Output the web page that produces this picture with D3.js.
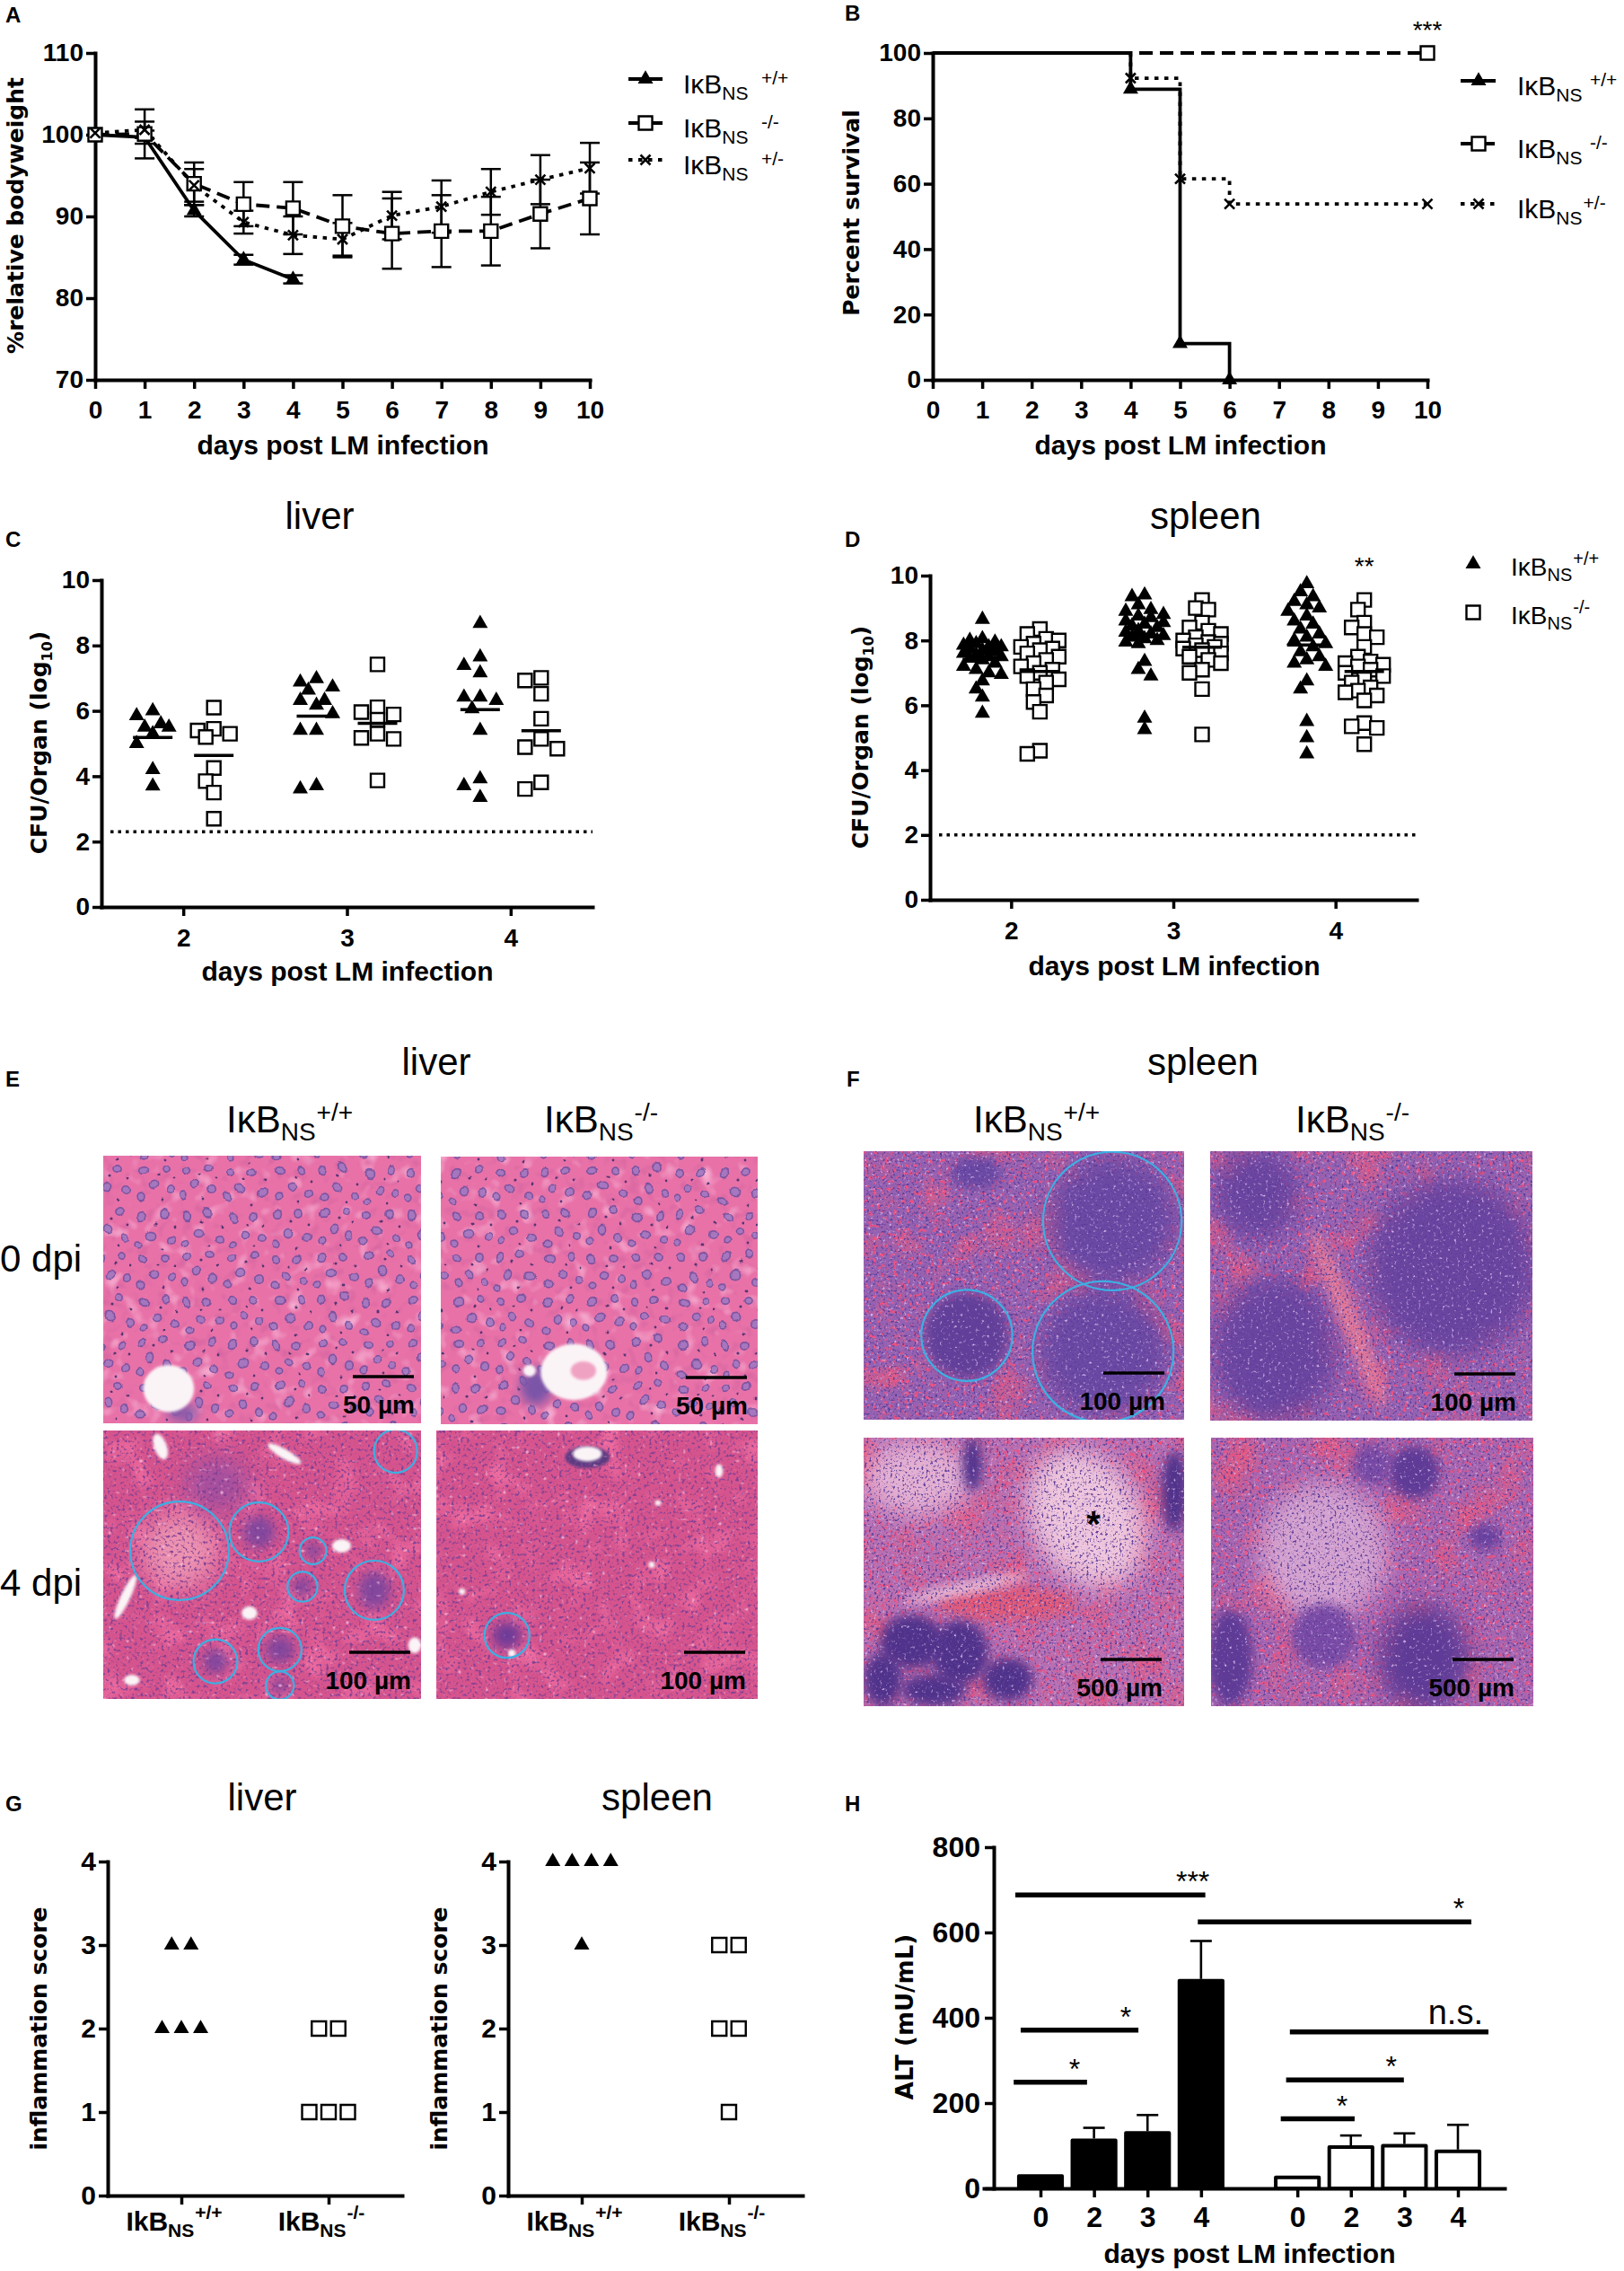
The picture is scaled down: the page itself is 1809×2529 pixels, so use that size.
<!DOCTYPE html>
<html>
<head>
<meta charset="utf-8">
<title>IκBNS LM infection figure</title>
<script src="https://cdn.jsdelivr.net/npm/d3@7/dist/d3.min.js"></script>
<style>
  html, body { margin: 0; padding: 0; background: #fff; }
  svg { display: block; }
</style>
</head>
<body>
<div id="figure"></div>
<script>
// ---------- A: relative bodyweight (%) ----------
const daysA = [0, 1, 2, 3, 4, 5, 6, 7, 8, 9, 10];
const weightWT = [100, 99.7, 90.7, 84.7, 82.3];
const weightWTerr = [0, 0.8, 0.7, 0.6, 0.5];
const weightKO = [100, 100.1, 94.0, 91.5, 91.0, 88.8, 87.9, 88.2, 88.2, 90.3, 92.2];
const weightKOerr = [0, 3.0, 2.6, 2.7, 3.2, 3.8, 4.3, 4.4, 4.2, 4.2, 4.4];
const weightHet = [100.2, 100.6, 93.8, 89.3, 87.7, 87.2, 90.1, 91.2, 93.0, 94.5, 95.9];
const weightHetErr = [0, 1.0, 2.0, 1.4, 2.3, 2.0, 2.9, 3.2, 2.8, 3.0, 3.1];

// ---------- B: survival (%) ----------
const survDaysWT = [0, 4, 5, 6];
const survWT = [100, 88.9, 11.1, 0];
const survDaysKO = [0, 10];
const survKO = [100, 100];
const survDaysHet = [0, 4, 5, 6, 10];
const survHet = [100, 92.3, 61.5, 53.8, 53.8];

// ---------- C/D: CFU per organ (log10), days 2,3,4 ----------
const cfuDays = ['2', '3', '4'];
const cfuLiverWT = [
  [6.0, 5.85, 5.6, 5.5, 5.5, 5.3, 5.0, 4.2, 3.7],
  [6.98, 6.88, 6.73, 6.63, 6.32, 6.32, 6.17, 5.91, 5.4, 5.4, 3.71, 3.61],
  [8.67, 7.65, 7.39, 7.16, 6.42, 6.42, 6.32, 6.06, 5.4, 3.92, 3.71, 3.35]
];
const cfuLiverKO = [
  [6.1, 5.45, 5.4, 5.3, 5.2, 4.25, 3.85, 3.5, 2.7],
  [7.42, 6.11, 5.96, 5.89, 5.73, 5.3, 5.17, 5.14, 3.87],
  [7.01, 6.93, 6.52, 5.76, 5.14, 4.89, 4.84, 3.81, 3.61]
];
const cfuSpleenWT = [
  [8.65, 8.05, 8.0, 7.95, 7.9, 7.85, 7.8, 7.8, 7.75, 7.7, 7.65, 7.6, 7.55, 7.5, 7.5, 7.45, 7.4, 7.3, 7.2, 7.1, 7.0, 6.95, 6.75, 6.5, 6.25, 5.75],
  [9.4, 9.35, 9.1, 8.95, 8.9, 8.8, 8.75, 8.7, 8.6, 8.55, 8.5, 8.45, 8.4, 8.3, 8.25, 8.2, 8.15, 8.1, 8.05, 8.0, 7.95, 7.9, 7.35, 7.1, 6.9, 5.6, 5.25],
  [9.75, 9.5, 9.35, 9.2, 9.1, 9.0, 8.9, 8.75, 8.6, 8.5, 8.35, 8.2, 8.1, 8.0, 7.9, 7.8, 7.65, 7.5, 7.4, 7.3, 7.2, 6.75, 6.5, 5.5, 5.0, 4.5]
];
const cfuSpleenKO = [
  [8.35, 8.2, 8.05, 8.0, 7.9, 7.8, 7.75, 7.7, 7.6, 7.5, 7.4, 7.3, 7.2, 7.1, 7.0, 6.9, 6.8, 6.7, 6.5, 6.3, 6.1, 5.8, 4.6, 4.5],
  [9.25, 9.0, 8.95, 8.55, 8.4, 8.3, 8.2, 8.1, 8.0, 7.95, 7.9, 7.85, 7.8, 7.75, 7.7, 7.6, 7.5, 7.4, 7.3, 7.1, 7.0, 6.5, 5.1],
  [9.25, 8.95, 8.55, 8.4, 8.2, 8.1, 7.8, 7.5, 7.35, 7.3, 7.25, 7.2, 7.1, 7.0, 6.9, 6.8, 6.7, 6.55, 6.45, 6.4, 6.3, 6.15, 5.45, 5.35, 5.3, 4.8]
];
const lodLiver = 2.3;
const lodSpleen = 2.0;

// ---------- G: inflammation score ----------
const scoreLiverWT = [3, 3, 2, 2, 2];
const scoreLiverKO = [2, 2, 1, 1, 1];
const scoreSpleenWT = [4, 4, 4, 4, 3];
const scoreSpleenKO = [3, 3, 2, 2, 1];

// ---------- H: ALT (mU/mL) ----------
const altDays = ['0', '2', '3', '4'];
const altWT = [33, 117, 134, 491];
const altWTerr = [0, 25, 38, 89];
const altKO = [30, 101, 104, 91];
const altKOerr = [0, 23, 25, 58];
// comparison bars: from/to in bar slots (KO bars start at slot 4.8), height in mU/mL
const altSig = [
  { from: -0.47, to: 3.08, v: 688, label: '***' },
  { from: 2.94, to: 8.05, v: 625, label: '*' },
  { from: -0.37, to: 1.83, v: 371, label: '*' },
  { from: -0.5, to: 0.87, v: 249, label: '*' },
  { from: 4.66, to: 8.37, v: 367, label: 'n.s.' },
  { from: 4.59, to: 6.79, v: 254, label: '*' },
  { from: 4.49, to: 5.87, v: 163, label: '*' }
];

const FONT = '"Liberation Sans", Arial, Helvetica, sans-serif';
const WIDE = '"DejaVu Sans", Verdana, sans-serif';
const BLUE = '#3cb0e2';

const svg = d3.select('#figure').append('svg').attr('width', 1809).attr('height', 2529);
svg.append('rect').attr('width', 1809).attr('height', 2529).attr('fill', '#fff');
const defs = svg.append('defs');

function styleAxis(sel, size) {
  sel.attr('font-family', FONT).attr('font-size', size).attr('font-weight', 'bold');
  sel.select('.domain').attr('stroke-width', 4).attr('stroke-linecap', 'square');
  sel.selectAll('.tick line').attr('stroke-width', 3.5);
  sel.selectAll('.tick text').attr('fill', '#000');
}

function text(g, x, y, txt, o = {}) {
  return g.append('text').attr('x', x).attr('y', y)
    .attr('font-family', o.family || FONT).attr('font-size', o.size || 28)
    .attr('font-weight', o.weight || 'normal').attr('text-anchor', o.anchor || 'start')
    .text(txt);
}

function yTitle(g, x, y, txt, size) {
  return g.append('text').attr('transform', `translate(${x},${y}) rotate(-90)`)
    .attr('text-anchor', 'middle').attr('dy', '0.35em')
    .attr('font-family', WIDE).attr('font-weight', 'bold').attr('font-size', size)
    .text(txt);
}

function ikbText(g, x, y, o) {
  const t = g.append('text').attr('x', x).attr('y', y)
    .attr('font-family', FONT).attr('font-size', o.size)
    .attr('font-weight', o.bold ? 'bold' : 'normal')
    .attr('text-anchor', o.anchor || 'start');
  t.append('tspan').text(o.k === 'k' ? 'IkB' : 'IκB');
  t.append('tspan').attr('font-size', o.small).attr('dy', o.subDy).text('NS');
  const sp = t.append('tspan').attr('font-size', o.small).attr('dy', o.supDy).text(o.sup);
  if (o.supX != null) sp.attr('x', o.supX); else sp.attr('dx', 1);
  return t;
}

const triPath = w => `M0,${-w * 0.58}L${w * 0.5},${w * 0.29}L${-w * 0.5},${w * 0.29}Z`;
const sqPath = s => `M${-s / 2},${-s / 2}h${s}v${s}h${-s}Z`;
const xPath = s => `M${-s / 2},${-s / 2}L${s / 2},${s / 2}M${-s / 2},${s / 2}L${s / 2},${-s / 2}`;

function drawMarks(g, data, kind, size, px, py) {
  const sel = g.append('g').selectAll('path').data(data).join('path')
    .attr('transform', d => `translate(${px(d)},${py(d)})`);
  if (kind === 'tri') sel.attr('d', triPath(size)).attr('fill', '#000');
  else if (kind === 'sq') sel.attr('d', sqPath(size)).attr('fill', '#fff').attr('stroke', '#000').attr('stroke-width', 2.4);
  else sel.attr('d', xPath(size)).attr('fill', 'none').attr('stroke', '#000').attr('stroke-width', 2.6);
  return sel;
}

function panelLetter(x, y, l) { text(svg, x, y, l, { size: 24, weight: 'bold' }); }

// ================= A =================
(function panelA() {
  const g = svg.append('g');
  const x = d3.scaleLinear().domain([0, 10]).range([106, 657]);
  const y = d3.scaleLinear().domain([70, 110]).range([423, 59]);
  g.append('g').attr('transform', 'translate(0,423)')
    .call(d3.axisBottom(x).tickValues(daysA).tickSize(10).tickSizeOuter(0).tickPadding(13))
    .call(styleAxis, 28);
  g.append('g').attr('transform', 'translate(106,0)')
    .call(d3.axisLeft(y).tickValues([70, 80, 90, 100, 110]).tickSize(10).tickSizeOuter(0).tickPadding(3))
    .call(styleAxis, 28);

  const series = [
    { vals: weightWT, err: weightWTerr, mark: 'tri', dash: null, size: 17 },
    { vals: weightKO, err: weightKOerr, mark: 'sq', dash: '15,8', size: 15 },
    { vals: weightHet, err: weightHetErr, mark: 'x', dash: '4.5,6.5', size: 11 }
  ];
  const line = d3.line().x(p => x(p.d)).y(p => y(p.v));
  series.forEach(s => {
    s.pts = s.vals.map((v, i) => ({ d: daysA[i], v, e: s.err[i] }));
    const eb = g.append('g').attr('stroke', '#000').attr('stroke-width', 2.5);
    s.pts.filter(p => p.e > 0).forEach(p => {
      eb.append('line').attr('x1', x(p.d)).attr('x2', x(p.d)).attr('y1', y(p.v - p.e)).attr('y2', y(p.v + p.e));
      [p.v - p.e, p.v + p.e].forEach(v => eb.append('line')
        .attr('x1', x(p.d) - 11).attr('x2', x(p.d) + 11).attr('y1', y(v)).attr('y2', y(v)));
    });
  });
  series.forEach(s => {
    g.append('path').datum(s.pts).attr('d', line).attr('fill', 'none')
      .attr('stroke', '#000').attr('stroke-width', 3.8).attr('stroke-dasharray', s.dash);
  });
  series.forEach(s => drawMarks(g, s.pts, s.mark, s.size, p => x(p.d), p => y(p.v)));

  // legend
  const rows = [88, 137, 178];
  const sups = ['+/+', '-/-', '+/-'];
  series.forEach((s, i) => {
    g.append('line').attr('x1', 700).attr('x2', 738).attr('y1', rows[i]).attr('y2', rows[i])
      .attr('stroke', '#000').attr('stroke-width', 3.8).attr('stroke-dasharray', s.dash);
    drawMarks(g, [0], s.mark, s.size, () => 719, () => rows[i]);
    ikbText(g, 761, rows[i] + 16, { size: 30, small: 21, subDy: 7, supDy: -17, sup: sups[i], supX: 848 });
  });

  yTitle(g, 17, 240, '%relative bodyweight', 25);
  text(g, 382, 506, 'days post LM infection', { size: 30, weight: 'bold', anchor: 'middle' });
  panelLetter(6, 25, 'A');
})();

// ================= B =================
(function panelB() {
  const g = svg.append('g');
  const x = d3.scaleLinear().domain([0, 10]).range([1039, 1590]);
  const y = d3.scaleLinear().domain([0, 100]).range([423, 59]);
  g.append('g').attr('transform', 'translate(0,423)')
    .call(d3.axisBottom(x).tickValues(daysA).tickSize(10).tickSizeOuter(0).tickPadding(13))
    .call(styleAxis, 28);
  g.append('g').attr('transform', 'translate(1039,0)')
    .call(d3.axisLeft(y).tickValues([0, 20, 40, 60, 80, 100]).tickSize(10).tickSizeOuter(0).tickPadding(3))
    .call(styleAxis, 28);

  const mk = (days, vals) => days.map((d, i) => ({ d, v: vals[i] }));
  const step = d3.line().curve(d3.curveStepAfter).x(p => x(p.d)).y(p => y(p.v));
  const series = [
    { pts: mk(survDaysKO, survKO), mark: 'sq', dash: '15,8', size: 15 },
    { pts: mk(survDaysHet, survHet), mark: 'x', dash: '4.5,6.5', size: 11 },
    { pts: mk(survDaysWT, survWT), mark: 'tri', dash: null, size: 17 }
  ];
  series.forEach(s => g.append('path').datum(s.pts).attr('d', step).attr('fill', 'none')
    .attr('stroke', '#000').attr('stroke-width', 3.8).attr('stroke-dasharray', s.dash));
  series.forEach(s => drawMarks(g, s.pts.slice(1), s.mark, s.size, p => x(p.d), p => y(p.v)));

  text(g, x(10), 43, '***', { size: 28, anchor: 'middle' });

  const order = [series[2], series[0], series[1]];
  const rows = [90, 160, 227];
  const sups = ['+/+', '-/-', '+/-'];
  order.forEach((s, i) => {
    g.append('line').attr('x1', 1627).attr('x2', 1666).attr('y1', rows[i]).attr('y2', rows[i])
      .attr('stroke', '#000').attr('stroke-width', 3.8).attr('stroke-dasharray', s.dash);
    drawMarks(g, [0], s.mark, s.size, () => 1647, () => rows[i]);
    ikbText(g, 1690, rows[i] + 16, {
      size: 30, small: 21, subDy: 7, supDy: -17, sup: sups[i],
      supX: i < 2 ? 1771 : null, k: i === 2 ? 'k' : null
    });
  });

  yTitle(g, 948, 237, 'Percent survival', 25);
  text(g, 1315, 506, 'days post LM infection', { size: 30, weight: 'bold', anchor: 'middle' });
  panelLetter(941, 23, 'B');
})();

// ================= C / D =================
function swarm(vals, y, cx, minD, stepX, maxOff) {
  const placed = [];
  vals.slice().sort((a, b) => b - a).forEach(v => {
    const py = y(v);
    let best = cx, bestScore = -1;
    for (let k = 0; k * stepX <= maxOff && bestScore !== Infinity; k++) {
      const cands = k === 0 ? [0] : [-k * stepX, k * stepX];
      for (const off of cands) {
        const px = cx + off;
        const dmin = placed.reduce((m, p) => Math.min(m, Math.hypot(p.x - px, p.y - py)), Infinity);
        if (dmin >= minD) { best = px; bestScore = Infinity; break; }
        if (dmin > bestScore) { bestScore = dmin; best = px; }
      }
    }
    placed.push({ v, x: best, y: py });
  });
  return placed;
}

function scatterPanel(o) {
  const g = svg.append('g');
  const x = d3.scalePoint().domain(cfuDays).range([o.x0, o.x1]).padding(0.5);
  const y = d3.scaleLinear().domain([0, 10]).range([o.y0, o.y1]);
  g.append('g').attr('transform', `translate(0,${o.y0})`)
    .call(d3.axisBottom(x).tickSize(10).tickSizeOuter(0).tickPadding(14))
    .call(styleAxis, 28);
  g.append('g').attr('transform', `translate(${o.x0},0)`)
    .call(d3.axisLeft(y).tickValues([0, 2, 4, 6, 8, 10]).tickSize(10).tickSizeOuter(0).tickPadding(3))
    .call(styleAxis, 28);

  g.append('line').attr('x1', o.x0 + 10).attr('x2', o.x1).attr('y1', y(o.lod)).attr('y2', y(o.lod))
    .attr('stroke', '#000').attr('stroke-width', 3.5).attr('stroke-dasharray', '3.5,5');

  const groups = [
    { data: o.wt, kind: 'tri', off: -o.off, size: 17 },
    { data: o.ko, kind: 'sq', off: o.off, size: 15 }
  ];
  groups.forEach(grp => {
    cfuDays.forEach((day, i) => {
      const cx = x(day) + grp.off;
      const pts = swarm(grp.data[i], y, cx, o.minD, o.stepX, o.maxOff);
      drawMarks(g, pts, grp.kind, grp.size, p => p.x, p => p.y);
      const m = d3.mean(grp.data[i]);
      g.append('line').attr('x1', cx - 22).attr('x2', cx + 22).attr('y1', y(m)).attr('y2', y(m))
        .attr('stroke', '#000').attr('stroke-width', 3.5);
    });
  });
  return { g, x, y };
}

function cfuTitle(g, x, y) {
  const t = g.append('text').attr('transform', `translate(${x},${y}) rotate(-90)`)
    .attr('text-anchor', 'middle').attr('dy', '0.35em')
    .attr('font-family', WIDE).attr('font-weight', 'bold').attr('font-size', 25);
  t.append('tspan').text('CFU/Organ (log');
  t.append('tspan').attr('font-size', 16).attr('dy', 6).text('10');
  t.append('tspan').attr('dy', -6).text(')');
}

(function panelC() {
  const p = scatterPanel({ x0: 113, x1: 660, y0: 1010, y1: 646, lod: lodLiver,
    wt: cfuLiverWT, ko: cfuLiverKO, off: 34, minD: 15, stepX: 9, maxOff: 22 });
  text(p.g, 356, 589, 'liver', { size: 42, anchor: 'middle' });
  cfuTitle(p.g, 43, 827);
  text(p.g, 387, 1092, 'days post LM infection', { size: 30, weight: 'bold', anchor: 'middle' });
  panelLetter(6, 609, 'C');
})();

(function panelD() {
  const p = scatterPanel({ x0: 1036, x1: 1578, y0: 1002, y1: 641, lod: lodSpleen,
    wt: cfuSpleenWT, ko: cfuSpleenKO, off: 32, minD: 11, stepX: 7, maxOff: 22 });
  text(p.g, 1343, 589, 'spleen', { size: 42, anchor: 'middle' });
  cfuTitle(p.g, 958, 821);
  text(p.g, p.x('4') + 32, 640, '**', { size: 28, anchor: 'middle' });
  // legend
  drawMarks(p.g, [0], 'tri', 17, () => 1641, () => 628);
  ikbText(p.g, 1683, 641, { size: 28, small: 20, subDy: 6, supDy: -18, sup: '+/+' });
  drawMarks(p.g, [0], 'sq', 15, () => 1641, () => 682);
  ikbText(p.g, 1683, 695, { size: 28, small: 20, subDy: 6, supDy: -18, sup: '-/-' });
  text(p.g, 1308, 1086, 'days post LM infection', { size: 30, weight: 'bold', anchor: 'middle' });
  panelLetter(941, 609, 'D');
})();

// ================= E / F: histology (textured stand-ins for the micrographs) =================
[['soft', 1.4], ['blurM', 6], ['blurL', 13]].forEach(([id, sd]) => {
  defs.append('filter').attr('id', id).attr('x', -0.6).attr('y', -0.6).attr('width', 2.2).attr('height', 2.2)
    .append('feGaussianBlur').attr('stdDeviation', sd);
});

let filterCount = 0;
function noiseFilter(freq, oct, seed, rgb, gain, thr) {
  const id = 'nz' + (filterCount++);
  const f = defs.append('filter').attr('id', id)
    .attr('x', 0).attr('y', 0).attr('width', 1).attr('height', 1)
    .attr('color-interpolation-filters', 'sRGB');
  f.append('feTurbulence').attr('type', 'fractalNoise').attr('baseFrequency', freq)
    .attr('numOctaves', oct).attr('seed', seed);
  f.append('feColorMatrix').attr('type', 'matrix')
    .attr('values', [0, 0, 0, 0, rgb[0], 0, 0, 0, 0, rgb[1], 0, 0, 0, 0, rgb[2], gain, 0, 0, 0, -gain * thr].join(' '));
  return id;
}
function jitterFilter(seed) {
  const id = 'jit' + (filterCount++);
  const f = defs.append('filter').attr('id', id).attr('x', -0.05).attr('y', -0.05).attr('width', 1.1).attr('height', 1.1);
  f.append('feTurbulence').attr('type', 'fractalNoise').attr('baseFrequency', 0.02)
    .attr('numOctaves', 1).attr('seed', seed).attr('result', 't');
  f.append('feDisplacementMap').attr('in', 'SourceGraphic').attr('in2', 't').attr('scale', 22)
    .attr('xChannelSelector', 'R').attr('yChannelSelector', 'G');
  return id;
}

// hepatocyte nuclei tile: [cx, cy, r, kind]
const nucleusTile = [[9, 9, 4.4, 'n'], [33, 7, 4.1, 'n'], [21, 27, 4.6, 'n'], [41, 33, 4.3, 'n'], [7, 39, 3.9, 'n'],
  [25, 15, 1.6, 'k'], [44, 19, 1.4, 'k'], [31, 43, 1.4, 'k']];
const nucPat = defs.append('pattern').attr('id', 'nuclei').attr('patternUnits', 'userSpaceOnUse')
  .attr('width', 50).attr('height', 48);
nucPat.selectAll('circle').data(nucleusTile).join('circle')
  .attr('cx', d => d[0]).attr('cy', d => d[1]).attr('r', d => d[2])
  .attr('fill', d => d[3] === 'n' ? '#9a78c2' : '#3d2a6a')
  .attr('stroke', d => d[3] === 'n' ? '#6a4c9e' : 'none').attr('stroke-width', 1.6);

const tissueKinds = {
  liver0: { base: '#e872a8', nuclei: true, under: [
    ['0.07', 2, [0.82, 0.38, 0.62], 2, 0.55],
    ['0.05', 2, [1, 0.82, 0.92], 2, 0.58]], over: [] },
  liver4: { base: '#d6548d', under: [['0.03', 2, [0.93, 0.42, 0.62], 3, 0.5]], over: [
    ['0.3', 2, [0.5, 0.25, 0.58], 4.5, 0.54],
    ['0.2', 1, [1, 0.8, 0.9], 4, 0.66]] },
  spleen: { base: '#9562b2', under: [
    ['0.02', 3, [0.88, 0.36, 0.52], 3, 0.5],
    ['0.22', 2, [0.93, 0.32, 0.5], 7, 0.57]], over: [
    ['0.38', 2, [0.36, 0.24, 0.6], 5, 0.55],
    ['0.3', 2, [0.85, 0.72, 0.92], 4, 0.62]] }
};

const LUMEN = '#fbf4f7', FOCUS = '#83479e', FOLL = '#6a48a4', DARK = '#50308a';
const tissues = [
  { box: [115, 1287, 354, 298], kind: 'liver0', seed: 11, bar: '50 µm', m: 8,
    blobs: [{ c: [.25, .96], r: [.05, .035], fill: '#8a5aa8', blur: 'blurM', top: true },
            { c: [.206, .87], r: [.08, .088], fill: LUMEN, blur: 'soft', top: true }], rings: [] },
  { box: [491, 1288, 353, 298], kind: 'liver0', seed: 23, bar: '50 µm', m: 12,
    blobs: [{ c: [.3, .86], r: [.05, .07], fill: '#7a55a8', blur: 'blurM', top: true },
            { c: [.42, .805], r: [.105, .105], fill: LUMEN, blur: 'soft', top: true },
            { c: [.45, .8], r: [.04, .035], fill: '#f0a2c2', blur: 'soft', top: true },
            { c: [.28, .8], r: [.02, .022], fill: LUMEN, blur: 'soft', top: true }], rings: [] },
  { box: [115, 1593, 354, 299], kind: 'liver4', seed: 37, bar: '100 µm', m: 12,
    blobs: [{ c: [.24, .448], r: [.12, .14], fill: '#ec92b0', blur: 'blurL' },
            { c: [.49, .378], r: [.05, .06], fill: FOCUS, blur: 'blurM' },
            { c: [.66, .448], r: [.025, .03], fill: FOCUS, blur: 'blurM' },
            { c: [.627, .582], r: [.03, .035], fill: FOCUS, blur: 'blurM' },
            { c: [.853, .595], r: [.05, .07], fill: FOCUS, blur: 'blurM' },
            { c: [.36, .2], r: [.1, .1], fill: '#a5509e', blur: 'blurL' },
            { c: [.353, .86], r: [.04, .045], fill: FOCUS, blur: 'blurM' },
            { c: [.556, .816], r: [.045, .05], fill: FOCUS, blur: 'blurM' },
            { c: [.556, .95], r: [.025, .03], fill: FOCUS, blur: 'blurM' },
            { c: [.57, .087], r: [.06, .018], fill: LUMEN, blur: 'soft', top: true, rot: 30 },
            { c: [.18, .06], r: [.02, .05], fill: LUMEN, blur: 'soft', top: true, rot: -20 },
            { c: [.75, .43], r: [.03, .025], fill: LUMEN, blur: 'soft', top: true },
            { c: [.46, .68], r: [.025, .025], fill: LUMEN, blur: 'soft', top: true },
            { c: [.07, .62], r: [.015, .09], fill: LUMEN, blur: 'soft', top: true, rot: 25 },
            { c: [.09, .93], r: [.025, .02], fill: LUMEN, blur: 'soft', top: true },
            { c: [.98, .8], r: [.02, .03], fill: LUMEN, blur: 'soft', top: true }],
    rings: [[.24, .448, .155], [.49, .378, .093], [.66, .448, .042], [.627, .582, .047], [.853, .595, .093],
            [.92, .077, .068], [.353, .86, .069], [.556, .816, .068], [.556, .95, .044]] },
  { box: [486, 1593, 358, 299], kind: 'liver4', seed: 41, bar: '100 µm', m: 14,
    blobs: [{ c: [.22, .763], r: [.045, .05], fill: '#6e3a98', blur: 'blurM' },
            { c: [.47, .1], r: [.07, .04], fill: '#5a3a80', blur: 'soft' },
            { c: [.47, .087], r: [.045, .028], fill: LUMEN, blur: 'soft', top: true },
            { c: [.88, .15], r: [.012, .025], fill: LUMEN, blur: 'soft', top: true },
            { c: [.69, .27], r: [.01, .01], fill: LUMEN, blur: 'soft', top: true },
            { c: [.67, .5], r: [.01, .012], fill: LUMEN, blur: 'soft', top: true },
            { c: [.08, .6], r: [.01, .012], fill: LUMEN, blur: 'soft', top: true },
            { c: [.235, .83], r: [.012, .015], fill: LUMEN, blur: 'soft', top: true }],
    rings: [[.22, .763, .07]] },
  { box: [962, 1282, 357, 299], kind: 'spleen', seed: 53, bar: '100 µm', m: 22,
    blobs: [{ c: [.776, .26], r: [.2, .24], fill: FOLL, blur: 'blurL' },
            { c: [.747, .747], r: [.2, .24], fill: FOLL, blur: 'blurL' },
            { c: [.322, .686], r: [.13, .16], fill: '#62409a', blur: 'blurM' },
            { c: [.35, .08], r: [.08, .06], fill: FOLL, blur: 'blurM' }],
    rings: [[.776, .26, .216], [.747, .747, .22], [.322, .686, .142]] },
  { box: [1348, 1282, 359, 300], kind: 'spleen', seed: 67, bar: '100 µm', m: 19,
    blobs: [{ c: [.75, .43], r: [.26, .33], fill: '#6a44a0', blur: 'blurL' },
            { c: [.2, .74], r: [.19, .27], fill: '#6a44a0', blur: 'blurL' },
            { c: [.145, .16], r: [.13, .17], fill: '#6a44a0', blur: 'blurL' },
            { c: [.43, .62], r: [.03, .36], fill: '#e27898', blur: 'blurM', rot: -22 }], rings: [] },
  { box: [962, 1601, 357, 299], kind: 'spleen', seed: 79, bar: '500 µm', m: 25, base: '#b870b2', star: [.717, .294],
    blobs: [{ c: [.695, .3], r: [.17, .27], fill: '#efc6dc', blur: 'blurL', rot: -30 },
            { c: [.17, .15], r: [.17, .14], fill: '#e4b0d2', blur: 'blurL' },
            { c: [.45, .62], r: [.22, .06], fill: '#e25a78', blur: 'blurM' },
            { c: [.15, .76], r: [.1, .1], fill: DARK, blur: 'blurM' },
            { c: [.3, .8], r: [.09, .12], fill: DARK, blur: 'blurM' },
            { c: [.45, .9], r: [.08, .08], fill: DARK, blur: 'blurM' },
            { c: [.22, .94], r: [.1, .06], fill: DARK, blur: 'blurM' },
            { c: [.06, .9], r: [.06, .1], fill: DARK, blur: 'blurM' },
            { c: [.34, .1], r: [.03, .1], fill: DARK, blur: 'blurM' },
            { c: [.97, .2], r: [.04, .15], fill: DARK, blur: 'blurM' },
            { c: [.32, .56], r: [.2, .02], fill: '#f2c8dc', blur: 'blurM', rot: -12 }], rings: [] },
  { box: [1349, 1601, 359, 299], kind: 'spleen', seed: 97, bar: '500 µm', m: 22, base: '#a866b0',
    blobs: [{ c: [.35, .42], r: [.2, .25], fill: '#d4a2cf', blur: 'blurL' },
            { c: [.63, .13], r: [.08, .1], fill: '#5e3a96', blur: 'blurM' },
            { c: [.66, .82], r: [.14, .2], fill: '#5e3a96', blur: 'blurL' },
            { c: [.06, .82], r: [.07, .18], fill: '#5e3a96', blur: 'blurM' },
            { c: [.35, .74], r: [.1, .12], fill: '#7a4ca6', blur: 'blurM' },
            { c: [.85, .37], r: [.05, .05], fill: '#6a42a0', blur: 'blurM' },
            { c: [.5, .1], r: [.06, .08], fill: '#7a4ca6', blur: 'blurM' }], rings: [] }
];

tissues.forEach((t, i) => {
  const [bx, by, bw, bh] = t.box;
  const fx = d3.scaleLinear().range([bx, bx + bw]);
  const fy = d3.scaleLinear().range([by, by + bh]);
  const kind = tissueKinds[t.kind];
  defs.append('clipPath').attr('id', 'clip' + i).append('rect')
    .attr('x', bx).attr('y', by).attr('width', bw).attr('height', bh);
  const g = svg.append('g').attr('clip-path', `url(#clip${i})`);
  g.append('rect').attr('x', bx).attr('y', by).attr('width', bw).attr('height', bh).attr('fill', t.base || kind.base);
  let k = 0;
  const layer = s => g.append('rect').attr('x', bx).attr('y', by).attr('width', bw).attr('height', bh)
    .attr('fill', '#000').attr('filter', `url(#${noiseFilter(s[0], s[1], t.seed + (k++), s[2], s[3], s[4])})`);
  const blob = b => g.append('ellipse').attr('cx', fx(b.c[0])).attr('cy', fy(b.c[1]))
    .attr('rx', b.r[0] * bw).attr('ry', b.r[1] * bh).attr('fill', b.fill)
    .attr('filter', `url(#${b.blur})`)
    .attr('transform', b.rot ? `rotate(${b.rot},${fx(b.c[0])},${fy(b.c[1])})` : null);
  kind.under.forEach(layer);
  if (kind.nuclei) {
    g.append('g').attr('filter', `url(#${jitterFilter(t.seed)})`)
      .append('rect').attr('x', bx - 20).attr('y', by - 20).attr('width', bw + 40).attr('height', bh + 40)
      .attr('fill', 'url(#nuclei)').attr('opacity', 0.85);
  }
  t.blobs.filter(b => !b.top).forEach(blob);
  kind.over.forEach(layer);
  t.blobs.filter(b => b.top).forEach(blob);
  g.selectAll('circle.ring').data(t.rings).join('circle').attr('class', 'ring')
    .attr('cx', d => fx(d[0])).attr('cy', d => fy(d[1])).attr('r', d => d[2] * bw)
    .attr('fill', 'none').attr('stroke', BLUE).attr('stroke-width', 2.2);
  if (t.star) text(svg, fx(t.star[0]), fy(t.star[1]) + 22, '*', { size: 40, weight: 'bold', anchor: 'middle' });
  const xe = bx + bw - t.m;
  svg.append('line').attr('x1', xe - 68).attr('x2', xe).attr('y1', by + bh - 52).attr('y2', by + bh - 52)
    .attr('stroke', '#000').attr('stroke-width', 3.5);
  text(svg, xe + 1, by + bh - 11, t.bar, { size: 28, weight: 'bold', anchor: 'end' });
});

text(svg, 486, 1197, 'liver', { size: 42, anchor: 'middle' });
text(svg, 1340, 1197, 'spleen', { size: 42, anchor: 'middle' });
[[252, '+/+'], [606, '-/-'], [1084, '+/+'], [1443, '-/-']].forEach(([hx, s]) =>
  ikbText(svg, hx, 1261, { size: 42, small: 28, subDy: 9, supDy: -22, sup: s }));
text(svg, 0, 1416, '0 dpi', { size: 42 });
text(svg, 0, 1777, '4 dpi', { size: 42 });
panelLetter(6, 1210, 'E');
panelLetter(943, 1210, 'F');

// ================= G =================
function scorePanel(o) {
  const g = svg.append('g');
  const x = d3.scalePoint().domain(['WT', 'KO']).range([o.x0, o.x1]).padding(0.5);
  const y = d3.scaleLinear().domain([0, 4]).range([o.y0, o.y1]);
  g.append('g').attr('transform', `translate(0,${o.y0})`)
    .call(d3.axisBottom(x).tickSize(10).tickSizeOuter(0).tickFormat(''))
    .call(styleAxis, 28);
  g.append('g').attr('transform', `translate(${o.x0},0)`)
    .call(d3.axisLeft(y).tickValues([0, 1, 2, 3, 4]).tickFormat(d3.format('d'))
      .tickSize(10).tickSizeOuter(0).tickPadding(3))
    .call(styleAxis, 30);
  [['WT', o.wt, 'tri', 17], ['KO', o.ko, 'sq', 16]].forEach(([key, vals, kind, size]) => {
    const pts = [];
    d3.group(vals, v => v).forEach((arr, v) =>
      arr.forEach((_, j) => pts.push({ v, off: (j - (arr.length - 1) / 2) * 21.5 })));
    drawMarks(g, pts, kind, size, d => x(key) + d.off, d => y(d.v));
  });
  ikbText(g, x('WT') - 8, 2484, { size: 30, small: 21, subDy: 7, supDy: -20, sup: '+/+', bold: true, k: 'k', anchor: 'middle' });
  ikbText(g, x('KO') - 8, 2484, { size: 30, small: 21, subDy: 7, supDy: -20, sup: '-/-', bold: true, k: 'k', anchor: 'middle' });
  text(g, o.titleX, 2016, o.title, { size: 42, anchor: 'middle' });
  yTitle(g, o.labelX, 2259, 'inflammation score', 25);
}
scorePanel({ x0: 120, x1: 448, y0: 2445, y1: 2073, wt: scoreLiverWT, ko: scoreLiverKO, title: 'liver', titleX: 292, labelX: 43 });
scorePanel({ x0: 566, x1: 894, y0: 2445, y1: 2073, wt: scoreSpleenWT, ko: scoreSpleenKO, title: 'spleen', titleX: 732, labelX: 489 });
panelLetter(6, 2017, 'G');

// ================= H =================
(function panelH() {
  const g = svg.append('g');
  const slot = d3.scaleLinear().domain([0, 7.8]).range([1159, 1624]);
  const x = slot.copy().domain([slot.invert(1096), slot.invert(1676)]).range([1096, 1676]);
  const y = d3.scaleLinear().domain([0, 800]).range([2437, 2057]);
  const bars = [
    ...altDays.map((d, i) => ({ s: i, day: d, v: altWT[i], e: altWTerr[i], fill: '#000' })),
    ...altDays.map((d, i) => ({ s: 4.8 + i, day: d, v: altKO[i], e: altKOerr[i], fill: '#fff' }))
  ];
  const bw = (x(1) - x(0)) * 0.875;

  // error bars (upper only)
  const eb = g.append('g').attr('stroke', '#000').attr('stroke-width', 2.6);
  bars.filter(b => b.e > 0).forEach(b => {
    eb.append('line').attr('x1', x(b.s)).attr('x2', x(b.s)).attr('y1', y(b.v)).attr('y2', y(b.v + b.e));
    eb.append('line').attr('x1', x(b.s) - 12).attr('x2', x(b.s) + 12).attr('y1', y(b.v + b.e)).attr('y2', y(b.v + b.e));
  });
  g.selectAll('rect.bar').data(bars).join('rect').attr('class', 'bar')
    .attr('x', b => x(b.s) - bw / 2 + 2).attr('width', bw - 4)
    .attr('y', b => y(b.v) + 2).attr('height', b => y(0) - y(b.v) - 2)
    .attr('fill', b => b.fill).attr('stroke', '#000').attr('stroke-width', 4).attr('stroke-linejoin', 'round');

  g.append('g').attr('transform', 'translate(0,2437)')
    .call(d3.axisBottom(x).tickValues(bars.map(b => b.s)).tickFormat((d, i) => bars[i].day)
      .tickSize(10).tickSizeOuter(0).tickPadding(10))
    .call(styleAxis, 32);
  g.append('g').attr('transform', 'translate(1107,0)')
    .call(d3.axisLeft(y).tickValues([0, 200, 400, 600, 800]).tickSize(10).tickSizeOuter(0).tickPadding(5))
    .call(styleAxis, 32);

  altSig.forEach(s => {
    g.append('line').attr('x1', x(s.from)).attr('x2', x(s.to)).attr('y1', y(s.v)).attr('y2', y(s.v))
      .attr('stroke', '#000').attr('stroke-width', 5.5);
    if (s.label === 'n.s.') text(g, x(s.to) - 6, y(s.v) - 9, s.label, { size: 38, anchor: 'end' });
    else text(g, x(s.to) - 14, y(s.v) - 4, s.label, { size: 32, anchor: 'middle' });
  });

  yTitle(g, 1008, 2246, 'ALT (mU/mL)', 26);
  text(g, 1392, 2520, 'days post LM infection', { size: 30, weight: 'bold', anchor: 'middle' });
  panelLetter(941, 2017, 'H');
})();
</script>
</body>
</html>
